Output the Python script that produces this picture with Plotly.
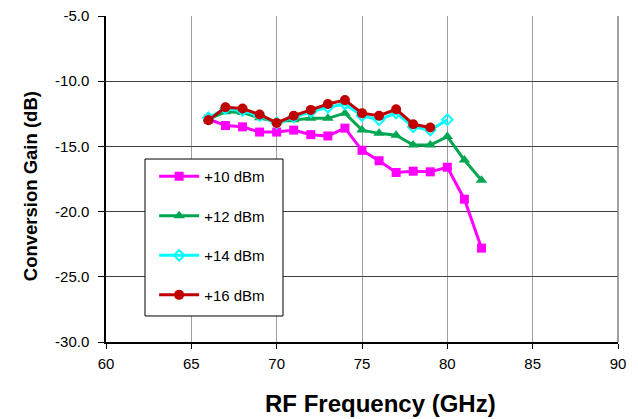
import plotly.graph_objects as go

freq_10 = [66, 67, 68, 69, 70, 71, 72, 73, 74, 75, 76, 77, 78, 79, 80, 81, 82]
gain_10 = [-12.9, -13.4, -13.5, -13.9, -13.9, -13.75, -14.1, -14.2, -13.6, -15.3, -16.1, -17.0, -16.9, -16.95, -16.6, -19.05, -22.8]

freq_12 = [66, 67, 68, 69, 70, 71, 72, 73, 74, 75, 76, 77, 78, 79, 80, 81, 82]
gain_12 = [-12.9, -12.35, -12.4, -12.8, -13.1, -12.95, -12.85, -12.85, -12.45, -13.75, -14.0, -14.15, -14.9, -14.9, -14.25, -16.05, -17.6]

freq_14 = [66, 67, 68, 69, 70, 71, 72, 73, 74, 75, 76, 77, 78, 79, 80]
gain_14 = [-12.8, -12.1, -12.25, -12.65, -13.2, -12.75, -12.35, -12.0, -11.75, -12.65, -12.95, -12.45, -13.5, -13.75, -12.95]

freq_16 = [66, 67, 68, 69, 70, 71, 72, 73, 74, 75, 76, 77, 78, 79]
gain_16 = [-13.0, -12.0, -12.1, -12.55, -13.2, -12.65, -12.2, -11.75, -11.45, -12.45, -12.65, -12.15, -13.3, -13.55]

x_ticks = [60, 65, 70, 75, 80, 85, 90]
y_ticks = [-30, -25, -20, -15, -10, -5]
y_tick_text = ["-30.0", "-25.0", "-20.0", "-15.0", "-10.0", "-5.0"]

x_title = "RF Frequency (GHz)"
y_title = "Conversion Gain (dB)"

fig = go.Figure()

fig.add_trace(go.Scatter(x=freq_10, y=gain_10, name="+10 dBm", mode="lines+markers",
                         line=dict(color="#FF00FF", width=3),
                         marker=dict(symbol="square", size=9, color="#FF00FF"),
                         legendgroup="a"))
fig.add_trace(go.Scatter(x=freq_12, y=gain_12, name="+12 dBm", mode="lines+markers",
                         line=dict(color="#00A651", width=3),
                         marker=dict(symbol="triangle-up", size=10, color="#00A651"),
                         legendgroup="b"))
fig.add_trace(go.Scatter(x=freq_14, y=gain_14, name="+14 dBm", mode="lines+markers",
                         line=dict(color="#00FFFF", width=3),
                         marker=dict(symbol="diamond-open", size=8, color="#00FFFF", line=dict(width=2)),
                         legendgroup="c"))
fig.add_trace(go.Scatter(x=freq_16, y=gain_16, name="+16 dBm", mode="lines+markers",
                         line=dict(color="#C00000", width=3),
                         marker=dict(symbol="circle", size=10, color="#C00000"),
                         legendgroup="d"))

fig.update_layout(
    width=638, height=419,
    margin=dict(l=106, r=20, t=16, b=77, autoexpand=False),
    paper_bgcolor="white", plot_bgcolor="white",
    font=dict(family="Arial, Liberation Sans, sans-serif", size=15, color="#000000"),
    showlegend=True,
    legend=dict(
        x=0.094, y=0.558, xanchor="left", yanchor="top",
        borderwidth=0, bgcolor="rgba(0,0,0,0)",
        font=dict(size=15), tracegroupgap=17, itemwidth=40,
    ),
    xaxis=dict(
        range=[60, 90], tickvals=x_ticks, ticks="outside", ticklen=5, tickcolor="#000",
        showline=True, linecolor="#000", linewidth=1.5,
        showgrid=True, gridcolor="#A0A0A0", gridwidth=1, zeroline=False,
        ticklabelstandoff=2, automargin=False,
    ),
    yaxis=dict(
        range=[-30, -5], tickvals=y_ticks, ticktext=y_tick_text, ticks="outside", ticklen=6,
        tickcolor="#000",
        showline=True, linecolor="#000", linewidth=1.5,
        showgrid=True, gridcolor="#404040", gridwidth=1, zeroline=False,
        ticklabelstandoff=6, automargin=False,
    ),
    annotations=[
        dict(text="<b>" + x_title + "</b>", xref="paper", yref="paper", x=0.537, y=-0.190,
             xanchor="center", yanchor="middle", showarrow=False, font=dict(size=24)),
        dict(text="<b>" + y_title + "</b>", xref="paper", yref="paper", x=-0.148, y=0.4785,
             xanchor="center", yanchor="middle", showarrow=False, textangle=-90,
             font=dict(size=18.5)),
    ],
    shapes=[
        dict(type="line", xref="paper", yref="paper", x0=1, x1=1, y0=0, y1=1,
             line=dict(color="#808080", width=1.5)),
        dict(type="rect", xref="paper", yref="paper", x0=0.0762, x1=0.3457, y0=0.0798, y1=0.5613,
             line=dict(color="#000000", width=1), fillcolor="white", layer="above"),
    ],
)

fig.write_html("out.html")
